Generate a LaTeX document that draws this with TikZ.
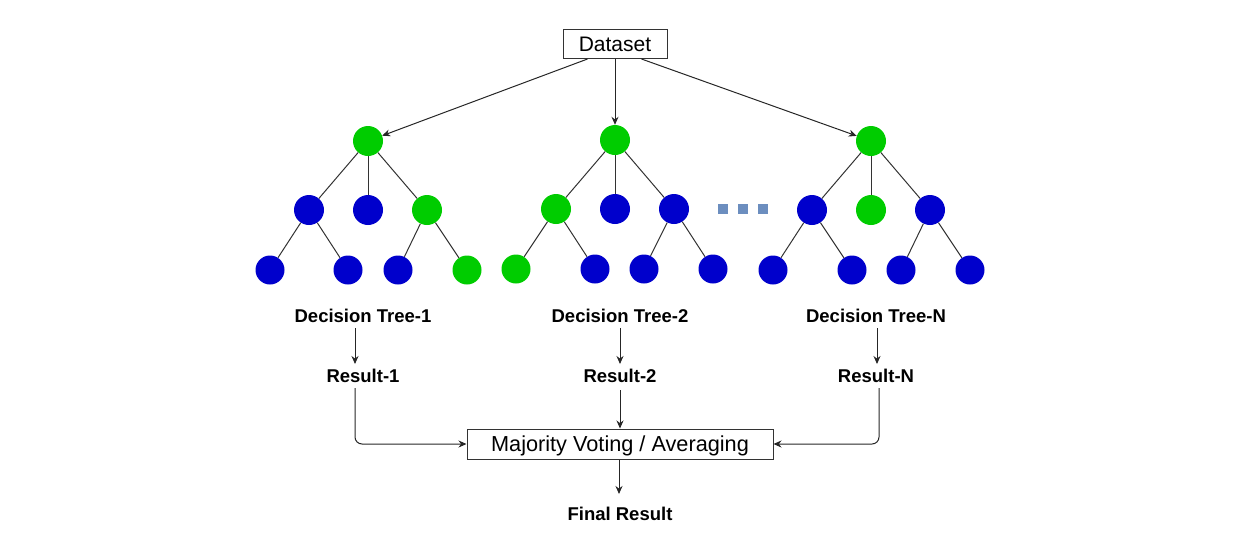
\documentclass[tikz,border=0pt]{standalone}
\usepackage{fontspec}
\setmainfont{Liberation Sans}
\usetikzlibrary{arrows.meta}
\definecolor{gn}{HTML}{00CC00}
\definecolor{bl}{HTML}{0000CC}
\definecolor{sq}{HTML}{6C8EBF}
\begin{document}
\begin{tikzpicture}[x=1pt,y=-1pt,
  g/.style={circle,fill=gn,minimum size=30pt,inner sep=0pt},
  b/.style={circle,fill=bl,minimum size=30pt,inner sep=0pt},
  lf/.style={minimum size=29pt},
  edge/.style={draw=black!80,line width=1pt},
  arr/.style={draw=black!85,line width=1pt,-{Stealth[length=8pt,width=7pt]}},
  box/.style={draw=black!80,line width=1pt,inner sep=0pt},
  lbl/.style={font=\fontsize{18.5}{20}\selectfont\bfseries,inner sep=0pt},
  dot/.style={fill=sq,minimum size=10pt,inner sep=0pt}
]
\useasboundingbox (0,0) rectangle (1240,550);
% Dataset
\node[box,minimum width=104pt,minimum height=29pt,text height=15pt,text depth=0pt,font=\fontsize{21}{23}\selectfont] (ds) at (615,44) {Dataset};
% Tree 1
\node[g] (r1) at (368,141) {};
\node[b] (a1) at (309,210) {};
\node[b] (b1) at (368,210) {};
\node[g] (c1) at (427,210) {};
\node[b,lf] (d1) at (270,270) {};
\node[b,lf] (e1) at (348,270) {};
\node[b,lf] (f1) at (398,270) {};
\node[g,lf] (h1) at (467,270) {};
% Tree 2
\node[g] (r2) at (615,140) {};
\node[g] (a2) at (556,209) {};
\node[b] (b2) at (615,209) {};
\node[b] (c2) at (674,209) {};
\node[g,lf] (d2) at (516,269) {};
\node[b,lf] (e2) at (595,269) {};
\node[b,lf] (f2) at (644,269) {};
\node[b,lf] (h2) at (713,269) {};
% Tree N
\node[g] (r3) at (871,141) {};
\node[b] (a3) at (812,210) {};
\node[g] (b3) at (871,210) {};
\node[b] (c3) at (930,210) {};
\node[b,lf] (d3) at (773,270) {};
\node[b,lf] (e3) at (852,270) {};
\node[b,lf] (f3) at (901,270) {};
\node[b,lf] (h3) at (970,270) {};
% dots
\node[dot] (s1) at (723,209) {};
\node[dot] (s2) at (743,209) {};
\node[dot] (s3) at (763,209) {};
% edges
\foreach \t in {1,2,3}{
  \draw[edge] (r\t) -- (a\t);
  \draw[edge] (r\t) -- (b\t);
  \draw[edge] (r\t) -- (c\t);
  \draw[edge] (a\t) -- (d\t);
  \draw[edge] (a\t) -- (e\t);
  \draw[edge] (c\t) -- (f\t);
  \draw[edge] (c\t) -- (h\t);
}
% dataset arrows
\draw[arr] (ds.south west)+(25,0) coordinate (dsl) (dsl) -- (r1);
\draw[arr] (ds) -- (r2);
\draw[arr] (ds.south east)+(-26,0) coordinate (dsr) (dsr) -- (r3);
% labels
\node[lbl] (t1) at (363,316) {Decision Tree-1};
\node[lbl] (t2) at (620,316) {Decision Tree-2};
\node[lbl] (t3) at (876,316) {Decision Tree-N};
\node[lbl] (q1) at (363,376) {Result-1};
\node[lbl] (q2) at (620,376) {Result-2};
\node[lbl] (q3) at (876,376) {Result-N};
\node[box,minimum width=306pt,minimum height=30pt,text height=15.5pt,text depth=0pt,font=\fontsize{21.7}{24}\selectfont] (mv) at (620,444) {Majority Voting / Averaging};
\node[lbl] (fr) at (620,514) {Final Result};
% arrows
\draw[arr] (355,328) -- (355,364);
\draw[arr] (620,328) -- (620,364);
\draw[arr] (877,328) -- (877,364);
\draw[arr,rounded corners=7pt] (355,388) -- (355,444) -- (mv.west);
\draw[arr] (620,390) -- (mv.north);
\draw[arr,rounded corners=7pt] (879,388) -- (879,444) -- (mv.east);
\draw[arr] (mv.south) ++(-1,0) -- (619,494);
\end{tikzpicture}
\end{document}
